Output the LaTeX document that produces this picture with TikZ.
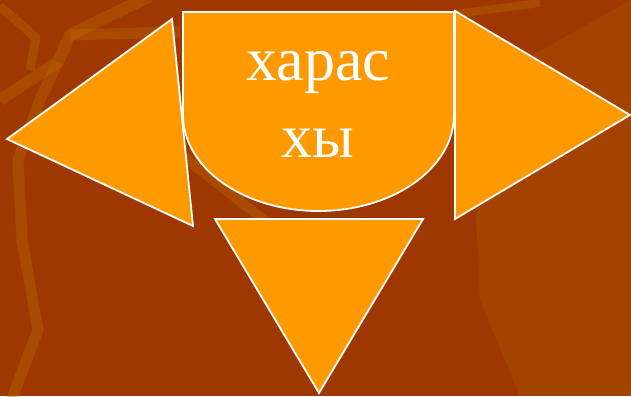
\documentclass[tikz,border=0pt]{standalone}
\usepackage{fontspec}
\setmainfont{Liberation Serif}
\begin{document}
\begin{tikzpicture}[x=1pt, y=-1pt, every node/.style={font=\fontsize{62}{76}\selectfont, text=white}]
        \definecolor{backdrop}{RGB}{158,56,0}
        \definecolor{streak}{RGB}{182,100,0}
        \definecolor{shapefill}{RGB}{255,153,0}
        \tikzset{piece/.style={fill=shapefill, draw=white, line width=1.8pt, line join=miter},
          band/.style={draw=streak, opacity=0.45, line join=bevel}}
        \useasboundingbox (0,0) rectangle (631,396);
        \clip (0,0) rectangle (631,396);
        \fill[backdrop] (0,0) rectangle (631,396);
        \fill[streak, opacity=0.25] (470,90) -- (631,0) -- (631,396) -- (520,396) -- (480,300) -- cycle;
        % background streaks
        \draw[band, line width=12] (0,100) -- (58,62) -- (70,35) -- (150,-4);
        \draw[band, line width=11] (70,35) -- (180,32);
        \draw[band, line width=11] (58,62) -- (40,100) -- (18,160) -- (22,240) -- (38,330) -- (0,430);
        \draw[band, line width=9] (0,6) -- (36,38) -- (30,70);
        \draw[band, line width=8] (455,14) -- (540,3);
        \draw[band, line width=10] (175,150) -- (270,225);
        % shapes
        \draw[piece] (7,139) -- (172,19) -- (193,226) -- cycle;
        \draw[piece] (455,11) -- (630,115) -- (455,219) -- cycle;
        \draw[piece] (215,219) -- (423,219) -- (319,393) -- cycle;
        \draw[piece] (183,12) -- (183,115) arc[start angle=180, end angle=0, x radius=135.5, y radius=96] -- (454,12) -- cycle;
        \node[anchor=base] (wordtop) at (318.5,81) {харас};
        \node[anchor=base] (wordbot) at (318,157) {хы};
\end{tikzpicture}
\end{document}
